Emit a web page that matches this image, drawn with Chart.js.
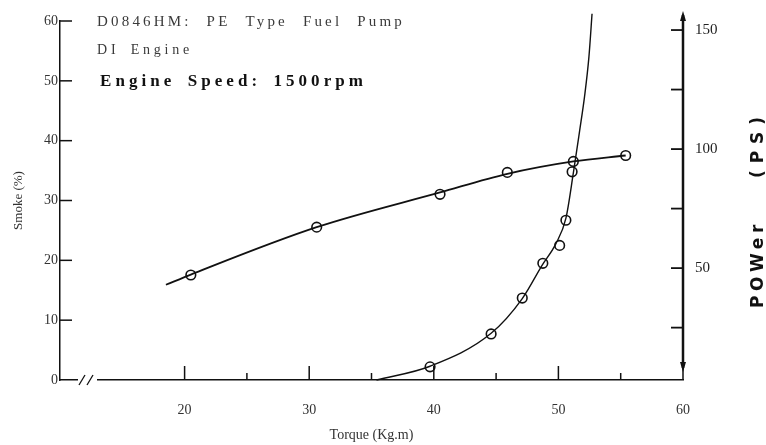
<!DOCTYPE html>
<html>
<head>
<meta charset="utf-8">
<script src="https://cdn.jsdelivr.net/npm/chart.js@4.4.1/dist/chart.umd.min.js"></script>
<style>
  body { margin: 0; background: #fff; }
  canvas { display: block; }
</style>
</head>
<body>
<canvas id="smokeChart" width="766" height="445"></canvas>
<script>
// Smoke curve (left axis, %) - measured points
const smokeTorque = [39.7, 44.6, 47.1, 48.75, 50.1, 50.6, 51.1, 52.7];
const smokeValues = [2.2, 7.7, 13.7, 19.5, 22.5, 26.7, 34.8, 61.2];
// Smoke curve - faired line
const smokeCurveTorque = [35.4, 39.7, 44.6, 47.1, 48.7, 49.8, 50.6, 51.2, 51.7, 52.1, 52.45, 52.7];
const smokeCurveValues = [0, 2.3, 7.8, 13.6, 19.2, 22.8, 27.0, 34.6, 41.6, 47.4, 54.0, 61.2];

// Power curve (right axis, PS) - measured points
const powerTorque = [20.5, 30.6, 40.5, 45.9, 51.2, 55.4];
const powerValues = [47.1, 67.2, 81.0, 90.2, 94.8, 97.3];
// Power curve - faired line
const powerCurveTorque = [18.5, 20.5, 30.6, 40.5, 45.9, 51.2, 55.4];
const powerCurveValues = [43.0, 47.3, 67.2, 81.8, 89.6, 94.8, 97.3];

// Axis ticks
const smokeTicks = [0, 10, 20, 30, 40, 50, 60];
const torqueTicks = [20, 30, 40, 50, 60];
const torqueMinorTicks = [25, 35, 45, 55];
const powerTicks = [25, 50, 75, 100, 125, 150];
const powerLabelled = [50, 100, 150];

// Header text and right axis title
const headerLines = ['D0846HM: PE Type Fuel Pump', 'DI Engine', 'Engine Speed: 1500rpm'];
const powerTitleWords = ['POWer', '(PS)'];

const toPoints = (xs, ys) => xs.map((x, i) => ({ x: x, y: ys[i] }));
const serif = '"Liberation Serif", "DejaVu Serif", serif';

// draw a text stretched to a given width with letter spacing
function spacedText(ctx, text, x, y, font, width, color, wordGap) {
  ctx.font = font;
  ctx.letterSpacing = '0px';
  ctx.wordSpacing = (wordGap || 0) + 'px';
  const w = ctx.measureText(text).width;
  ctx.letterSpacing = Math.max(0, (width - w) / text.length) + 'px';
  ctx.fillStyle = color;
  ctx.textAlign = 'left';
  ctx.textBaseline = 'middle';
  ctx.fillText(text, x, y);
  ctx.letterSpacing = '0px';
  ctx.wordSpacing = '0px';
}

// extra drawing: inward ticks, axis break, right axis, notes
const decorations = {
  id: 'decorations',
  afterDraw(chart) {
    const { ctx, chartArea: a, scales } = chart;
    const x = scales.x, y = scales.y, y2 = scales.y2;
    const seg = (x1, y1, x2, y2p) => { ctx.beginPath(); ctx.moveTo(x1, y1); ctx.lineTo(x2, y2p); ctx.stroke(); };
    ctx.save();
    ctx.strokeStyle = '#111';
    ctx.lineWidth = 1.5;

    // left axis ticks (pointing in)
    smokeTicks.forEach(v => {
      if (v === 0) return;
      const py = y.getPixelForValue(v);
      seg(a.left, py, a.left + 12, py);
    });

    // bottom axis ticks (pointing up)
    torqueTicks.forEach(v => {
      const px = x.getPixelForValue(v);
      seg(px, a.bottom, px, a.bottom - 14);
    });
    torqueMinorTicks.forEach(v => {
      const px = x.getPixelForValue(v);
      seg(px, a.bottom, px, a.bottom - 7);
    });

    // axis break on the torque axis
    ctx.fillStyle = '#fff';
    ctx.fillRect(a.left + 18, a.bottom - 3, 19, 6);
    ctx.lineWidth = 1.3;
    seg(a.left + 19, a.bottom + 5, a.left + 25, a.bottom - 5);
    seg(a.left + 27, a.bottom + 5, a.left + 33, a.bottom - 5);

    // right power axis with arrow heads
    const rx = a.right;
    ctx.lineWidth = 2.5;
    seg(rx, a.top - 6, rx, a.bottom - 12);
    ctx.fillStyle = '#111';
    ctx.beginPath();
    ctx.moveTo(rx, a.bottom - 8); ctx.lineTo(rx - 3, a.bottom - 18); ctx.lineTo(rx + 3, a.bottom - 18);
    ctx.closePath(); ctx.fill();
    ctx.beginPath();
    ctx.moveTo(rx, a.top - 10); ctx.lineTo(rx - 3, a.top); ctx.lineTo(rx + 3, a.top);
    ctx.closePath(); ctx.fill();
    ctx.lineWidth = 1.8;
    powerTicks.forEach(v => {
      const py = y2.getPixelForValue(v);
      seg(rx - 12, py, rx, py);
    });

    // right axis title, reading bottom to top, partly cut by the edge
    const titleFont = 'bold 17px "DejaVu Sans", sans-serif';
    ctx.save();
    ctx.translate(759, 308);
    ctx.rotate(-Math.PI / 2);
    spacedText(ctx, powerTitleWords[0], 0, 0, titleFont, 88, '#111');
    spacedText(ctx, powerTitleWords[1], 130, 0, titleFont, 68, '#111');
    ctx.restore();

    // notes in the top left
    spacedText(ctx, headerLines[0], 97, 22, '15px ' + serif, 308, '#3a3a3a', 8);
    spacedText(ctx, headerLines[1], 97, 50, '14px ' + serif, 96, '#3a3a3a', 4);
    spacedText(ctx, headerLines[2], 100, 82, 'bold 17px ' + serif, 267, '#111', 4);
    ctx.restore();
  }
};

const ctx = document.getElementById('smokeChart');
new Chart(ctx, {
  type: 'scatter',
  data: {
    datasets: [
      {
        label: 'Smoke curve',
        data: toPoints(smokeCurveTorque, smokeCurveValues),
        showLine: true,
        borderColor: '#111',
        borderWidth: 1.4,
        pointRadius: 0,
        cubicInterpolationMode: 'monotone',
        clip: false,
        yAxisID: 'y',
      },
      {
        label: 'Smoke',
        data: toPoints(smokeTorque, smokeValues),
        pointRadius: 4.8,
        pointBackgroundColor: '#fff',
        pointBorderColor: '#111',
        pointBorderWidth: 1.6,
        clip: false,
        yAxisID: 'y',
      },
      {
        label: 'Power curve',
        data: toPoints(powerCurveTorque, powerCurveValues),
        showLine: true,
        borderColor: '#111',
        borderWidth: 1.8,
        pointRadius: 0,
        cubicInterpolationMode: 'monotone',
        yAxisID: 'y2',
      },
      {
        label: 'Power',
        data: toPoints(powerTorque, powerValues),
        pointRadius: 4.8,
        pointBackgroundColor: '#fff',
        pointBorderColor: '#111',
        pointBorderWidth: 1.6,
        yAxisID: 'y2',
      },
    ],
  },
  options: {
    responsive: false,
    animation: false,
    devicePixelRatio: 1,
    layout: { padding: { top: 20, left: 0, right: 0, bottom: 0 } },
    plugins: {
      legend: { display: false },
      tooltip: { enabled: false },
    },
    scales: {
      x: {
        type: 'linear',
        min: 10,
        max: 60,
        afterBuildTicks: (axis) => { axis.ticks = torqueTicks.map(v => ({ value: v })); },
        afterFit: (axis) => { axis.height = 65; },
        grid: { display: false, drawTicks: false },
        border: { display: true, color: '#111', width: 1.5 },
        ticks: { color: '#333', padding: 22, font: { family: serif, size: 14 } },
        title: {
          display: true,
          text: 'Torque (Kg.m)',
          color: '#333',
          font: { family: serif, size: 14 },
          padding: { top: 0, bottom: 1 },
        },
      },
      y: {
        position: 'left',
        min: 0,
        max: 60,
        afterBuildTicks: (axis) => { axis.ticks = smokeTicks.map(v => ({ value: v })); },
        afterFit: (axis) => { axis.width = 60; },
        grid: { display: false, drawTicks: false },
        border: { display: true, color: '#111', width: 1.5 },
        ticks: { color: '#333', padding: 2, font: { family: serif, size: 14 } },
        title: {
          display: true,
          text: 'Smoke (%)',
          color: '#333',
          font: { family: serif, size: 13 },
          padding: { top: 11, bottom: 0 },
        },
      },
      y2: {
        position: 'right',
        min: 3,
        max: 153.8,
        afterBuildTicks: (axis) => { axis.ticks = powerTicks.map(v => ({ value: v })); },
        afterFit: (axis) => { axis.width = 83; },
        grid: { display: false, drawTicks: false },
        border: { display: false },
        ticks: {
          color: '#222',
          padding: 12,
          font: { family: serif, size: 15 },
          callback: (v) => (powerLabelled.includes(v) ? String(v) : ''),
        },
      },
    },
  },
  plugins: [decorations],
});
</script>
</body>
</html>
